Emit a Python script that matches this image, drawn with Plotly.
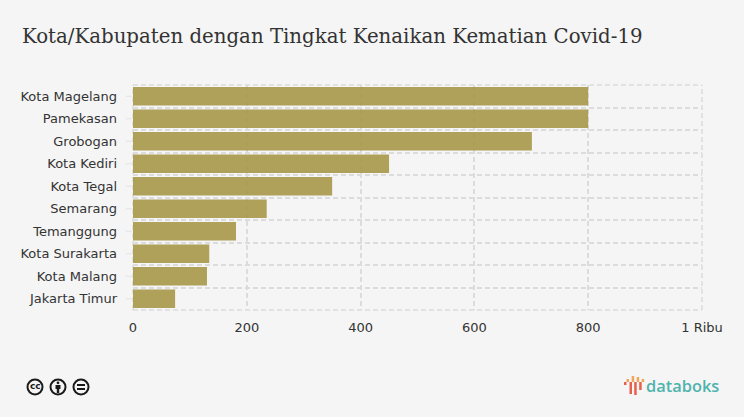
import plotly.graph_objects as go

categories = ["Kota Magelang", "Pamekasan", "Grobogan", "Kota Kediri", "Kota Tegal",
              "Semarang", "Temanggung", "Kota Surakarta", "Kota Malang", "Jakarta Timur"]
values = [800, 800, 701, 450, 350, 235, 181, 134, 130, 74]
x_ticks = [0, 200, 400, 600, 800, 1000]
x_labels = ["0", "200", "400", "600", "800", "1 Ribu"]

BG = "#f5f5f5"
GRID = "#dcdcdc"
DASH = "5px,3px"
TXT = "#333333"
W, H = 744, 417
L, R, T, B = 133, 702, 85, 310

def px(x): return (x - L) / (R - L)
def py(y): return (B - y) / (B - T)

fig = go.Figure()
fig.add_trace(go.Bar(x=values, y=categories, orientation="h",
                     marker=dict(color="#a69644", line=dict(width=0)), opacity=0.88,
                     hoverinfo="skip", showlegend=False))

shapes = []
ann = []

def paper_shape(kind, x0, x1, y0, y1, **kw):
    shapes.append(dict(type=kind, xref="paper", yref="paper", x0=px(x0), x1=px(x1),
                       y0=py(y1), y1=py(y0), **kw))

# plot frame drawn with the same dashes as the grid
for x0, x1, y0, y1 in ((L, R, T, T), (L, R, B, B), (L, L, T, B), (R, R, T, B)):
    paper_shape("line", x0, x1, y0, y1, layer="below", line=dict(color=GRID, width=1.5, dash=DASH))
# category tick marks
for i in range(len(categories)):
    yc = T + (i + 0.5) * (B - T) / len(categories)
    paper_shape("line", 126, 132, yc, yc, line=dict(color="#e2e2e2", width=1))
# Creative Commons badges
for cx in (35, 58, 81):
    paper_shape("circle", cx - 7.5, cx + 7.5, 379.5, 394.5,
                line=dict(color="#1a1a1a", width=2), fillcolor="#f5f5f5")
ann.append(dict(text="<b>cc</b>", x=px(35), y=py(386), xref="paper", yref="paper", showarrow=False,
                xanchor="center", yanchor="middle",
                font=dict(family="DejaVu Sans", size=9, color="#1a1a1a")))
# person
paper_shape("circle", 56.6, 59.4, 381.4, 384.2, fillcolor="#1a1a1a", line=dict(width=0))
paper_shape("rect", 55.5, 60.5, 385, 389, fillcolor="#1a1a1a", line=dict(width=0))
paper_shape("rect", 56.8, 59.2, 389, 393, fillcolor="#1a1a1a", line=dict(width=0))
# equals
paper_shape("rect", 77, 85, 384, 386, fillcolor="#1a1a1a", line=dict(width=0))
paper_shape("rect", 77, 85, 388, 390, fillcolor="#1a1a1a", line=dict(width=0))
# databoks logo bars: (left, right, top, bottom, colour)
logo_bars = [(624, 626.5, 382, 385, "#e8604c"), (626.5, 629, 379, 382, "#f2a65a"),
             (629.5, 632, 382, 394, "#e8604c"), (631.7, 634.2, 376, 382, "#f2a65a"),
             (634.2, 636.7, 382, 395, "#e8604c"), (636.7, 639.2, 377, 382, "#f2a65a"),
             (639.2, 641.7, 382, 390, "#e8604c"), (641.7, 644.2, 379, 382, "#f2a65a")]
for x0, x1, t, b, c in logo_bars:
    paper_shape("rect", x0, x1, t, b, fillcolor=c, line=dict(width=0))
ann.append(dict(text="databoks", x=px(646), y=py(385.5), xref="paper", yref="paper", xanchor="left",
                yanchor="middle", showarrow=False, xshift=-2,
                font=dict(family="Open Sans", size=16.4, weight=600, color="#4fb3ae")))

fig.update_layout(
    width=W, height=H, autosize=False,
    paper_bgcolor=BG, plot_bgcolor=BG,
    margin=dict(l=L, r=W - R, t=T, b=H - B),
    bargap=0.18,
    title=dict(text="Kota/Kabupaten dengan Tingkat Kenaikan Kematian Covid-19",
               x=22 / W, xanchor="left", y=1 - 36 / H, yanchor="middle",
               font=dict(family="DejaVu Serif", size=19.75, color="#333333")),
    xaxis=dict(range=[0, 1000], tickvals=x_ticks, ticktext=x_labels, showgrid=True,
               gridcolor=GRID, griddash=DASH, gridwidth=1.5, zeroline=False, showline=False,
               ticks="", tickfont=dict(family="DejaVu Sans", size=13, color=TXT), ticklabelstandoff=8),
    yaxis=dict(type="category", categoryorder="array", categoryarray=categories[::-1],
               tickson="boundaries", showgrid=True, gridcolor=GRID, griddash=DASH, gridwidth=1.5,
               zeroline=False, showline=False, ticks="",
               tickfont=dict(family="DejaVu Sans", size=13, color=TXT), ticklabelstandoff=15),
    shapes=shapes, annotations=ann,
)
fig.write_html("out.html", config=dict(displayModeBar=False),
               post_script="document.body.style.margin='0';document.body.style.background='#f5f5f5';")
